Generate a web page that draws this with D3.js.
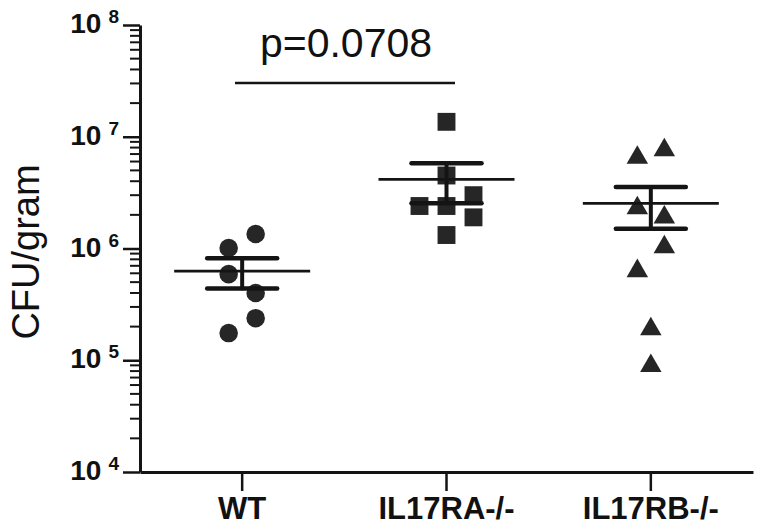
<!DOCTYPE html>
<html>
<head>
<script src="https://cdn.jsdelivr.net/npm/d3@7"></script>
<style>
  body { margin: 0; background: #fff; }
  text { font-family: Arial, "Liberation Sans", sans-serif; fill: #111; }
</style>
</head>
<body>
<script>
// groups and CFU values
var groups = ["WT", "IL17RA-/-", "IL17RB-/-"];
var wtValues   = [1.35e6, 1.01e6, 5.9e5, 4.0e5, 2.38e5, 1.75e5];
var raValues   = [1.36e7, 4.5e6, 2.4e6, 2.4e6, 3.0e6, 1.9e6, 1.32e6];
var rbValues   = [7.6e6, 6.5e6, 2.3e6, 1.9e6, 1.03e6, 6.3e5, 1.9e5, 8.9e4];
// scatter slot of each point (left/right of the column centre)
var wtSlots = [1, -1, -1, 1, 1, -1];
var raSlots = [0, 0, -2, 0, 2, 2, 0];
var rbSlots = [1, -1, -1, 1, 1, -1, 0, 0];
var yMajor = [1e4, 1e5, 1e6, 1e7, 1e8];
var yExponents = ["4", "5", "6", "7", "8"];
var pLabel = "p=0.0708";

var series = [
  {name: groups[0], values: wtValues, slots: wtSlots, shape: d3.symbolCircle},
  {name: groups[1], values: raValues, slots: raSlots, shape: d3.symbolSquare},
  {name: groups[2], values: rbValues, slots: rbSlots, shape: d3.symbolTriangle}
];

var width = 764, height = 530;
var ink = "#141414", fillc = "#262626";

var svg = d3.select("body").append("svg")
    .attr("width", width)
    .attr("height", height);

var y = d3.scaleLog().domain([1e4, 1e8]).range([472, 25]);
var x = d3.scaleBand().domain(groups).range([140, 753]);
var cx = function (g) { return x(g) + x.bandwidth() / 2; };
var slotW = 13.5;

// minor ticks 2..9 in each decade
var minors = [];
for (var e = 4; e < 8; e++) {
  for (var m = 2; m <= 9; m++) minors.push(m * Math.pow(10, e));
}
svg.append("g").selectAll("line")
    .data(minors)
    .enter()
    .append("line")
    .attr("x1", 130).attr("x2", 140)
    .attr("y1", function (d) { return y(d); })
    .attr("y2", function (d) { return y(d); })
    .attr("stroke", ink)
    .attr("stroke-width", 2);

var gY = svg.append("g").attr("transform", "translate(140,0)")
    .call(d3.axisLeft(y).tickValues(yMajor).tickSize(17).tickSizeOuter(0).tickFormat(""));
gY.select(".domain").attr("stroke", ink).attr("stroke-width", 3);
gY.selectAll(".tick line").attr("stroke", ink).attr("stroke-width", 2.5);

// power-of-ten labels
var lab = svg.append("g").selectAll("text")
    .data(yMajor)
    .enter()
    .append("text")
    .attr("x", 119)
    .attr("y", function (d) { return y(d) + 8; })
    .attr("text-anchor", "end")
    .attr("font-size", 28)
    .attr("font-weight", "bold");
lab.append("tspan").text("10");
lab.append("tspan")
    .attr("dx", 7)
    .attr("dy", -10)
    .attr("font-size", 19)
    .text(function (d, i) { return yExponents[i]; });

// x axis
var gX = svg.append("g").attr("transform", "translate(0,472)")
    .call(d3.axisBottom(x).tickSize(19).tickSizeOuter(0));
gX.select(".domain").attr("stroke", ink).attr("stroke-width", 3);
gX.selectAll(".tick line").attr("stroke", ink).attr("stroke-width", 2.5);
gX.selectAll("text")
    .attr("y", 47)
    .attr("dy", null)
    .attr("font-size", 31)
    .attr("font-weight", "bold")
    .attr("fill", ink);

// y title
svg.append("text")
    .attr("transform", "translate(39,252) rotate(-90)")
    .attr("text-anchor", "middle")
    .attr("font-size", 38)
    .text("CFU/gram");

// points
var sizes = {};
sizes[groups[0]] = 270;
sizes[groups[1]] = 320;
sizes[groups[2]] = 200;
series.forEach(function (s) {
  svg.append("g").selectAll("path")
      .data(s.values)
      .enter()
      .append("path")
      .attr("d", d3.symbol().type(s.shape).size(sizes[s.name]))
      .attr("transform", function (d, i) {
        return "translate(" + (cx(s.name) + s.slots[i] * slotW) + "," + y(d) + ")";
      })
      .attr("fill", fillc);
});

// mean and SEM bars
series.forEach(function (s) {
  var mean = d3.mean(s.values);
  var sem = d3.deviation(s.values) / Math.sqrt(s.values.length);
  var c = cx(s.name);
  var g = svg.append("g").attr("stroke", ink).attr("stroke-linecap", "round");
  g.append("line")
      .attr("x1", c - 68).attr("x2", c + 68)
      .attr("y1", y(mean)).attr("y2", y(mean))
      .attr("stroke-width", 2.8).attr("stroke-linecap", "butt");
  g.append("line")
      .attr("x1", c).attr("x2", c)
      .attr("y1", y(mean + sem)).attr("y2", y(mean - sem))
      .attr("stroke-width", 4);
  [mean + sem, mean - sem].forEach(function (v) {
    g.append("line")
        .attr("x1", c - 35).attr("x2", c + 35)
        .attr("y1", y(v)).attr("y2", y(v))
        .attr("stroke-width", 4.5);
  });
});

// significance bracket
svg.append("line")
    .attr("x1", 235).attr("x2", 455)
    .attr("y1", 83).attr("y2", 83)
    .attr("stroke", ink).attr("stroke-width", 2.5);
svg.append("text")
    .attr("x", 346)
    .attr("y", 57)
    .attr("text-anchor", "middle")
    .attr("font-size", 41)
    .text(pLabel);
</script>
</body>
</html>
